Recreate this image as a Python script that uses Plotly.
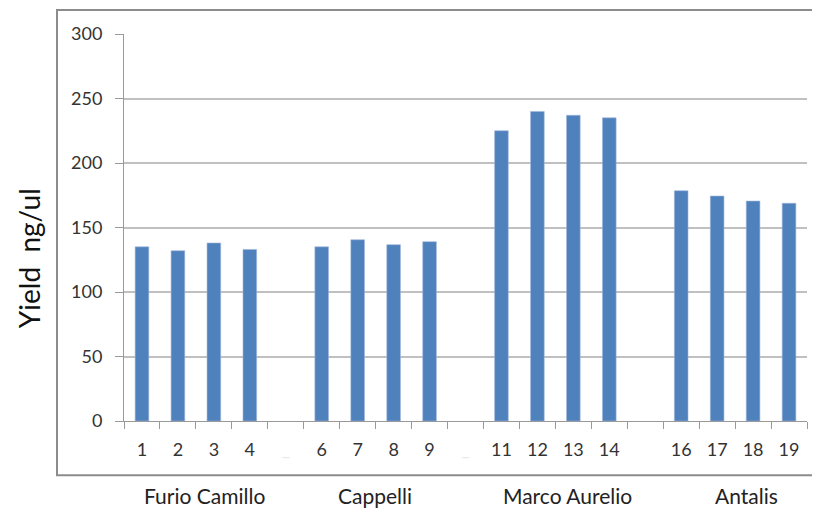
import plotly.graph_objects as go

categories = [str(i) for i in range(1, 20)]
tick_labels = ["1", "2", "3", "4", "<span style='color:#e8e8e8'>_</span>",
               "6", "7", "8", "9", "<span style='color:#e8e8e8'>_</span>",
               "11", "12", "13", "14", "", "16", "17", "18", "19"]
yield_values = [135, 132, 138, 133, None, 135, 140.5, 136.7, 139, None,
                225, 240, 237, 235, None, 178.5, 174.4, 170.5, 168.8]
group_names = ["Furio Camillo", "Cappelli", "Marco Aurelio", "Antalis"]
group_pos = [1.75, 6.48, 11.84, 16.83]

OFF = 8  # page body margin shift
W, H = 820 - OFF, 511 - OFF
L, T = 124 - OFF, 34 - OFF
R = W - (807 - OFF)
B = H - (420.7 - OFF)
pw, ph = W - L - R, H - T - B

def px_x(p):
    return (p - OFF - L) / pw

def px_y(p):
    return (H - B - (p - OFF)) / ph

fig = go.Figure()
fig.add_trace(go.Bar(
    x=categories, y=yield_values,
    marker=dict(color="#4f81bd", line=dict(color="#9fb7dc", width=0.6)),
    width=0.38,
))

font_family = "Lato, 'Open Sans', sans-serif"

fig.update_layout(
    width=W, height=H,
    margin=dict(l=L, r=R, t=T, b=B),
    paper_bgcolor="white", plot_bgcolor="white",
    showlegend=False,
    font=dict(family=font_family, color="#333333"),
    xaxis=dict(
        type="category", tickvals=categories, ticktext=tick_labels,
        tickson="boundaries", ticks="outside", ticklen=7, tickcolor="#999999",
        showline=True, linecolor="#999999", linewidth=1,
        showgrid=False, tickfont=dict(size=18, color="#333333"),
        ticklabelstandoff=12,
        range=[-0.5, 18.5],
    ),
    yaxis=dict(
        range=[0, 300], dtick=50, ticks="outside", ticklen=8, tickcolor="#999999",
        showline=True, linecolor="#999999", linewidth=1,
        showgrid=True, gridcolor="#c0c0c0", gridwidth=1.5,
        tickfont=dict(size=18, color="#333333"),
        ticklabelstandoff=9, zeroline=False,
    ),
)

for name, pos in zip(group_names, group_pos):
    fig.add_annotation(x=pos, y=px_y(495), xref="x", yref="paper",
                       text=name, showarrow=False,
                       font=dict(size=21, color="#222222"),
                       xanchor="center", yanchor="middle")

fig.add_annotation(x=px_x(29), y=px_y(258), xref="paper", yref="paper",
                   text="Yield  ng/ul", textangle=-90, showarrow=False,
                   font=dict(size=28, color="#111111"),
                   xanchor="center", yanchor="middle")

fig.add_shape(type="rect", xref="paper", yref="paper",
              x0=px_x(57), x1=px_x(840), y0=px_y(475), y1=px_y(10),
              line=dict(color="#8c8c8c", width=2), layer="below")

fig.write_html("out.html")
